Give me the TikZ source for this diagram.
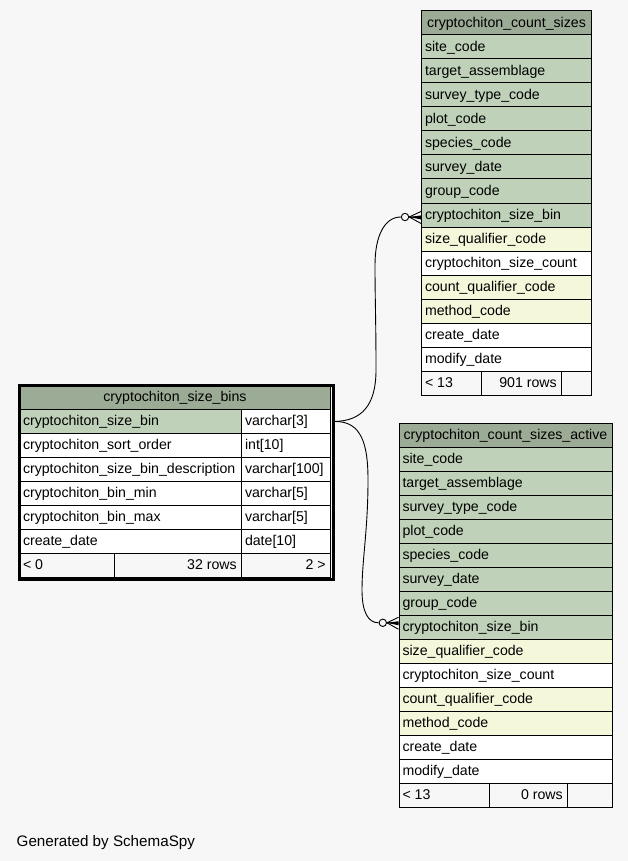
\documentclass[tikz,border=0pt]{standalone}
\usepackage{fontspec}
\setmainfont{Liberation Sans}
\definecolor{bgc}{HTML}{F7F7F7}
\definecolor{hdrc}{HTML}{9CAB96}
\definecolor{keyc}{HTML}{BFD1B9}
\definecolor{idxc}{HTML}{F4F7DA}
\newcommand\tabfont{\fontsize{14.15}{17}\selectfont}
\newcommand\genfont{\fontsize{15.2}{18}\selectfont}
\tikzset{
  cellbox/.style={draw=black,line width=0.9pt,inner sep=0pt,minimum height=24pt,rectangle},
  celltext/.style={inner sep=0pt,font=\tabfont,text=black},
  odot/.style={circle,draw=black,fill=bgc,line width=0.9pt,minimum size=7.4pt,inner sep=0pt},
  conn/.style={draw=black,line width=0.9pt},
}
\newcommand\celbox[5]{\node[cellbox,fill=#5,minimum width=#4pt,anchor=north west] (#1) at (#2,#3) {};}
\newcommand\celL[6]{\celbox{#1}{#2}{#3}{#4}{#5}\node[celltext,anchor=base west] (#1t) at ([xshift=3.8pt,yshift=-4.2pt]#1.west) {#6};}
\newcommand\celC[6]{\celbox{#1}{#2}{#3}{#4}{#5}\node[celltext,anchor=base] (#1t) at ([yshift=-4.2pt]#1.center) {#6};}
\newcommand\celR[6]{\celbox{#1}{#2}{#3}{#4}{#5}\node[celltext,anchor=base east] (#1t) at ([xshift=-5pt,yshift=-4.2pt]#1.east) {#6};}
\begin{document}
\begin{tikzpicture}[x=1pt,y=-1pt]
\fill[bgc] (0,0) rectangle (628,861);
\useasboundingbox (0,0) rectangle (628,861);

% ---- table cryptochiton_count_sizes ----
\celC{T0}{421}{10.5}{170}{hdrc}{cryptochiton\_count\_sizes}
\foreach \txt/\col [count=\i] in {site\_code/keyc,target\_assemblage/keyc,survey\_type\_code/keyc,plot\_code/keyc,species\_code/keyc,survey\_date/keyc,group\_code/keyc,cryptochiton\_size\_bin/keyc,size\_qualifier\_code/idxc,cryptochiton\_size\_count/white,count\_qualifier\_code/idxc,method\_code/idxc,create\_date/white,modify\_date/white}{
  \celL{T\i}{421}{10.5+24*\i}{170}{\col}{\txt}
}
\celL{T15a}{421}{370.5}{60}{bgc}{< 13}
\celR{T15b}{481}{370.5}{80}{bgc}{901 rows}
\celbox{T15c}{561}{370.5}{30}{bgc}

% ---- table cryptochiton_count_sizes_active ----
\celC{B0}{398.5}{422.5}{213}{hdrc}{cryptochiton\_count\_sizes\_active}
\foreach \txt/\col [count=\i] in {site\_code/keyc,target\_assemblage/keyc,survey\_type\_code/keyc,plot\_code/keyc,species\_code/keyc,survey\_date/keyc,group\_code/keyc,cryptochiton\_size\_bin/keyc,size\_qualifier\_code/idxc,cryptochiton\_size\_count/white,count\_qualifier\_code/idxc,method\_code/idxc,create\_date/white,modify\_date/white}{
  \celL{B\i}{398.5}{422.5+24*\i}{213}{\col}{\txt}
}
\celL{B15a}{398.5}{782.5}{90.5}{bgc}{< 13}
\celR{B15b}{489}{782.5}{78}{bgc}{0 rows}
\celbox{B15c}{567}{782.5}{44.5}{bgc}

% ---- table cryptochiton_size_bins ----
\celC{L0}{19}{385}{311}{hdrc}{cryptochiton\_size\_bins}
\celL{L1a}{19}{409}{222}{keyc}{cryptochiton\_size\_bin}
\celL{L1b}{241}{409}{89}{white}{varchar[3]}
\celL{L2a}{19}{433}{222}{white}{cryptochiton\_sort\_order}
\celL{L2b}{241}{433}{89}{white}{int[10]}
\celL{L3a}{19}{457}{222}{white}{cryptochiton\_size\_bin\_description}
\celL{L3b}{241}{457}{89}{white}{varchar[100]}
\celL{L4a}{19}{481}{222}{white}{cryptochiton\_bin\_min}
\celL{L4b}{241}{481}{89}{white}{varchar[5]}
\celL{L5a}{19}{505}{222}{white}{cryptochiton\_bin\_max}
\celL{L5b}{241}{505}{89}{white}{varchar[5]}
\celL{L6a}{19}{529}{222}{white}{create\_date}
\celL{L6b}{241}{529}{89}{white}{date[10]}
\celL{L7a}{19}{553}{95}{bgc}{< 0}
\celR{L7b}{114}{553}{127}{bgc}{32 rows}
\celR{L7c}{241}{553}{89}{bgc}{2 >}
\node[draw=black,line width=3pt,inner sep=0pt,minimum width=314pt,minimum height=194pt,anchor=north west] (lborder) at (17.5,383.5) {};

% ---- relationships ----
\coordinate (s) at (lborder.east |- L1b.center);
\node[odot] (c1) at (405,217) {};
\node[odot] (c2) at (382.8,622.8) {};
\coordinate (e1) at ([yshift=-2.5pt]T8.west);
\coordinate (e2) at ([yshift=3.7pt]B8.west);

\draw[conn] (s) .. controls (362,421) and (376,405) .. (376,370)
  .. controls (376,320) and (375,300) .. (375,265)
  .. controls (375,235) and (385,217) .. (c1.west);
\draw[conn] (c1.east) -- ([yshift=6pt]e1);
\draw[conn] (c1.east) -- (e1);
\draw[conn] (c1.east) -- ([yshift=-6pt]e1);
\fill[black] (c1.east) -- ([yshift=2pt]e1) -- ([yshift=-2pt]e1) -- cycle;

\draw[conn] (s) .. controls (362,421) and (368,445) .. (368,480)
  .. controls (368,530) and (362,560) .. (362,590)
  .. controls (362,612) and (368,622.8) .. (c2.west);
\draw[conn] (c2.east) -- ([yshift=6pt]e2);
\draw[conn] (c2.east) -- (e2);
\draw[conn] (c2.east) -- ([yshift=-6pt]e2);
\fill[black] (c2.east) -- ([yshift=2pt]e2) -- ([yshift=-2pt]e2) -- cycle;

\node[anchor=base west,inner sep=0pt,font=\genfont] (gen) at (16.5,846) {Generated by SchemaSpy};
\end{tikzpicture}
\end{document}
